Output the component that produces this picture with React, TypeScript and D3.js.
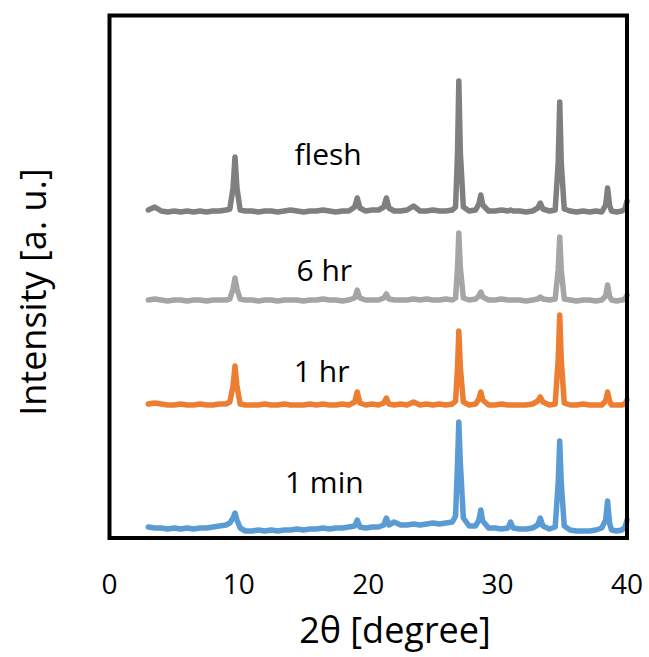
import React from "react";
import * as d3 from "d3";

const twoTheta = [
  3.0, 3.5, 4.0, 4.5, 5.0, 5.5, 6.0, 6.5, 7.0, 7.5, 8.0, 8.5, 9.0, 9.3, 9.55, 9.7, 9.85, 10.1,
  10.5, 11.0, 11.5, 12.0, 12.5, 13.0, 13.5, 14.0, 14.5, 15.0, 15.5, 16.0, 16.5, 17.0, 17.5, 18.0,
  18.5, 18.95, 19.15, 19.35, 19.8, 20.3, 20.8, 21.2, 21.4, 21.6, 22.0, 22.5, 23.0, 23.5, 24.0,
  24.5, 25.0, 25.5, 26.0, 26.5, 26.75, 26.9, 27.0, 27.12, 27.35, 27.8, 28.3, 28.55, 28.7, 28.85,
  29.3, 29.8, 30.3, 30.8, 31.0, 31.2, 31.7, 32.2, 32.7, 33.1, 33.3, 33.5, 34.0, 34.45, 34.68,
  34.8, 34.92, 35.15, 35.6, 36.1, 36.6, 37.1, 37.6, 38.05, 38.35, 38.5, 38.65, 38.8, 39.2, 39.6,
  39.85, 40.0,
];

const flesh = [
  328, 331, 327, 326, 327, 326, 327, 326, 327, 326, 327, 327, 328, 329, 350, 381, 350, 328,
  327, 327, 326, 327, 327, 326, 327, 328, 327, 326, 327, 327, 328, 327, 326, 327,
  327, 331, 340, 330, 327, 328, 328, 331, 340, 330, 327, 327, 328, 332, 327,
  327, 328, 327, 327, 328, 331, 385, 457, 385, 331, 327, 328, 334, 343, 333,
  327, 327, 328, 327, 328, 327, 327, 326, 327, 330, 335, 329, 327, 328, 375,
  436, 375, 329, 327, 326, 327, 326, 327, 326, 333, 350, 333, 327, 326, 327,
  329, 337,
];

const sixHr = [
  238, 239, 238, 237, 238, 238, 237, 238, 238, 237, 238, 238, 238, 239, 249, 260, 249, 239,
  238, 238, 237, 238, 238, 237, 238, 238, 238, 237, 238, 238, 239, 238, 238, 237,
  238, 240, 248, 240, 238, 238, 238, 240, 244, 239, 238, 238, 238, 239, 238,
  239, 238, 238, 239, 238, 240, 270, 305, 270, 240, 238, 239, 242, 246, 241,
  238, 238, 239, 238, 238, 238, 238, 237, 238, 239, 241, 239, 238, 239, 268,
  301, 268, 239, 238, 237, 238, 238, 237, 238, 242, 253, 242, 238, 237, 238,
  239, 243,
];

const oneHr = [
  134, 135, 134, 133, 133, 134, 133, 133, 134, 133, 133, 134, 134, 136, 152, 172, 152, 134,
  133, 133, 133, 134, 133, 133, 134, 133, 133, 133, 134, 133, 134, 133, 133, 134,
  133, 136, 146, 135, 133, 134, 133, 135, 140, 134, 133, 134, 133, 136, 133,
  134, 133, 134, 133, 134, 137, 170, 207, 170, 136, 133, 134, 139, 146, 138,
  133, 133, 134, 133, 133, 133, 133, 133, 134, 137, 141, 136, 133, 134, 178,
  223, 178, 135, 133, 133, 134, 133, 133, 133, 137, 146, 137, 133, 133, 133,
  134, 138,
];

const oneMin = [
  11, 10, 10, 9, 10, 9, 10, 9, 10, 10, 11, 12, 13, 15, 20, 25, 18, 10,
  7, 7, 8, 7, 8, 7, 8, 8, 9, 8, 9, 9, 10, 9, 10, 10,
  11, 12, 18, 11, 10, 11, 11, 13, 20, 13, 16, 13, 13, 14, 13,
  14, 15, 14, 15, 16, 22, 75, 116, 75, 20, 12, 12, 18, 28, 17,
  10, 10, 9, 10, 16, 10, 9, 9, 10, 13, 20, 12, 9, 11, 55,
  97, 55, 12, 8, 7, 7, 7, 8, 10, 18, 37, 15, 8, 7, 8,
  11, 18,
];

const seriesNames = ["1 min", "1 hr", "6 hr", "flesh"];
const seriesValues = [oneMin, oneHr, sixHr, flesh];
const seriesColors = ["#5b9bd5", "#ed7d31", "#a5a5a5", "#7f7f7f"];
// label anchor positions in data units [2θ, intensity]
const labelX = [16.6, 16.4, 16.6, 16.9];
const labelY = [45, 156, 257, 373];

const xTicks = [0, 10, 20, 30, 40];

const W = 649;
const H = 657;
const left = 109.5;
const right = 627;
const top = 15.5;
const bottom = 538;
const font = "'Open Sans', sans-serif";

export default function App() {
  const x = d3.scaleLinear().domain([0, 40]).range([left, right]);
  const y = d3.scaleLinear().domain([0, 522]).range([bottom, 16]);

  const line = d3
    .line<number>()
    .x((_, i) => x(twoTheta[i]))
    .y((d) => y(d));

  return (
    <svg width={W} height={H} style={{ position: "absolute", left: 0, top: 0 }}>
      <rect x={0} y={0} width={W} height={H} fill="#fff" />
      {seriesValues.map((vals, s) => (
        <path
          key={seriesNames[s]}
          d={line(vals) || ""}
          fill="none"
          stroke={seriesColors[s]}
          strokeWidth={5.5}
          strokeLinejoin="round"
          strokeLinecap="round"
        />
      ))}
      {seriesNames.map((name, s) => (
        <text
          key={"lbl" + name}
          x={x(labelX[s])}
          y={y(labelY[s])}
          fontFamily={font}
          fontSize={30}
          textAnchor="middle"
          fill="#000"
        >
          {name}
        </text>
      ))}
      <rect
        x={left}
        y={top}
        width={right - left}
        height={bottom - top}
        fill="none"
        stroke="#000"
        strokeWidth={4}
      />
      {xTicks.map((t) => (
        <text
          key={"t" + t}
          x={x(t)}
          y={594}
          fontFamily={font}
          fontSize={28}
          textAnchor="middle"
          fill="#000"
        >
          {t}
        </text>
      ))}
      <text
        x={395}
        y={643}
        fontFamily={font}
        fontSize={36}
        textAnchor="middle"
        fill="#000"
      >
        2θ [degree]
      </text>
      <text
        transform="translate(46,292) rotate(-90)"
        fontFamily={font}
        fontSize={36}
        textAnchor="middle"
        fill="#000"
      >
        Intensity [a. u.]
      </text>
    </svg>
  );
}
